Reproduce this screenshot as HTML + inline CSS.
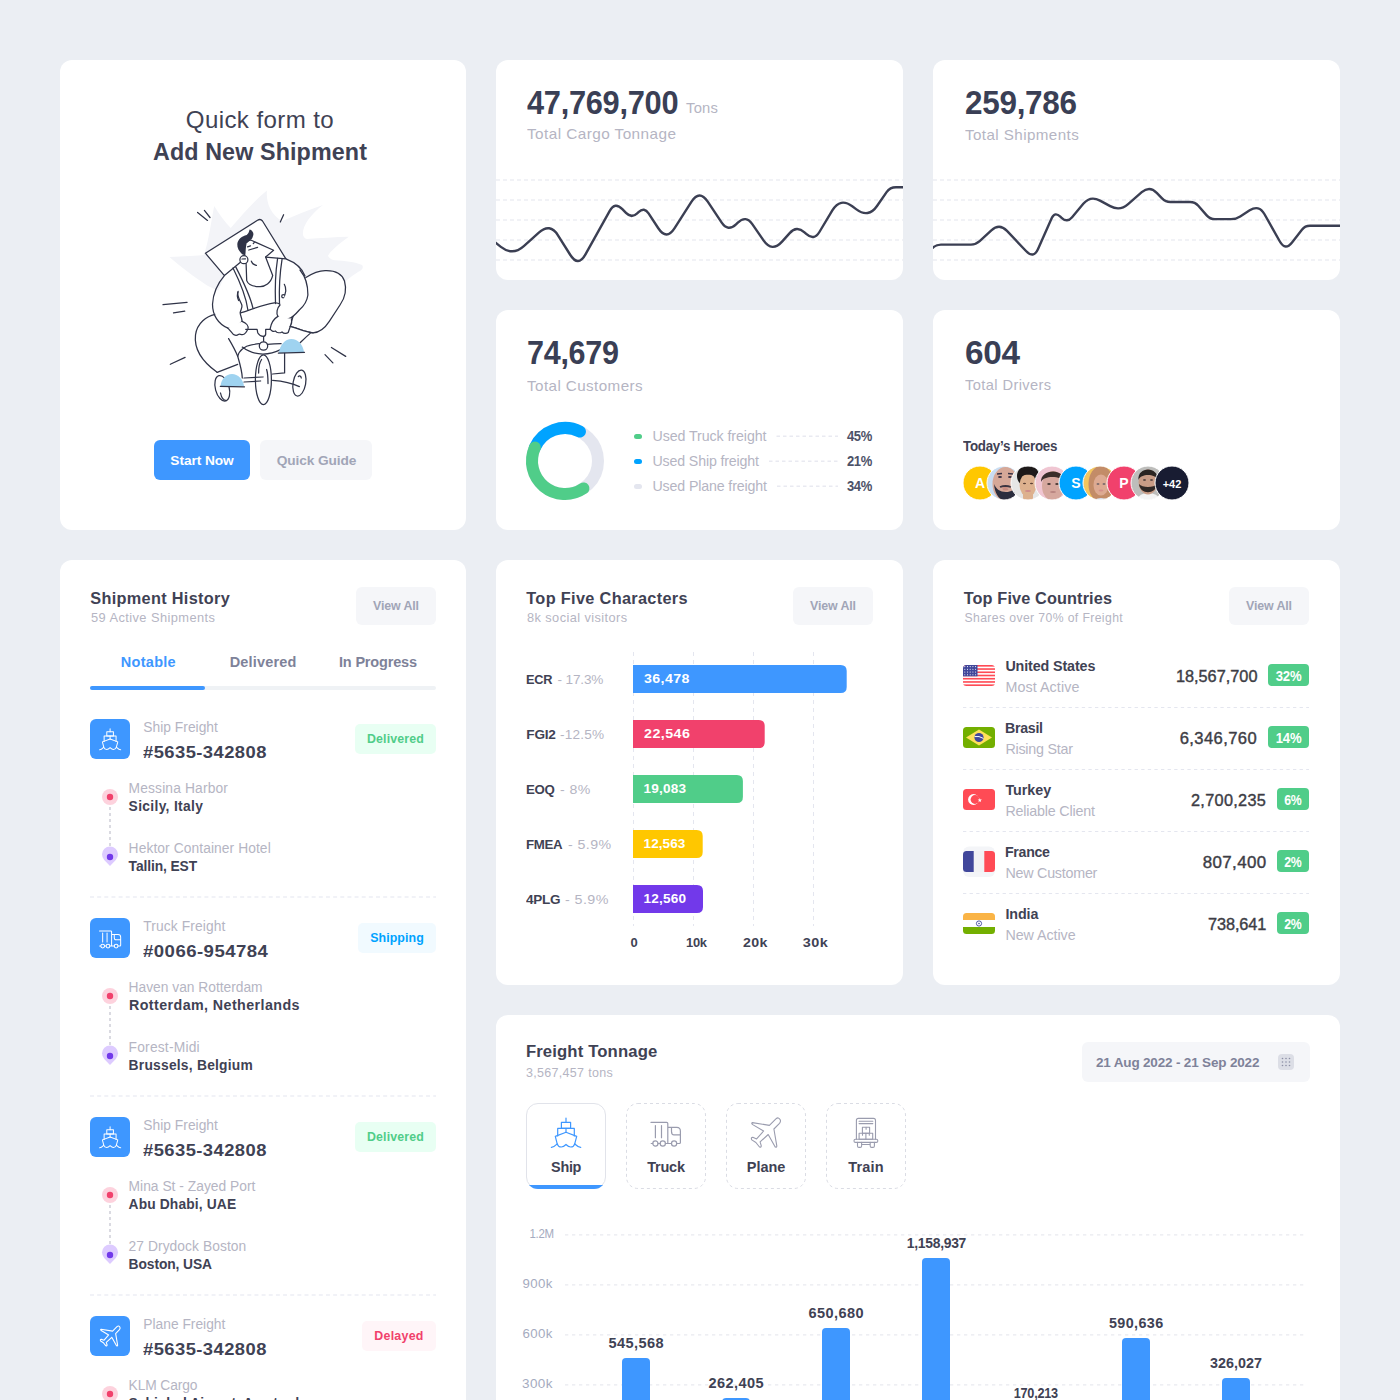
<!DOCTYPE html><html><head><meta charset="utf-8"><style>
html,body{margin:0;padding:0;}
body{width:1400px;height:1400px;overflow:hidden;background:#EBEEF3;position:relative;font-family:"Liberation Sans",sans-serif;}
.t{position:absolute;white-space:nowrap;z-index:2;}
.t span{display:inline-block;}
.r{position:absolute;}
.a{position:absolute;overflow:visible;}
</style></head><body>
<div class="r" style="left:60px;top:60px;width:406px;height:470px;background:#fff;border-radius:12px;"></div>
<div class="r" style="left:496px;top:60px;width:407px;height:220px;background:#fff;border-radius:12px;"></div>
<div class="r" style="left:933px;top:60px;width:407px;height:220px;background:#fff;border-radius:12px;"></div>
<div class="r" style="left:496px;top:310px;width:407px;height:220px;background:#fff;border-radius:12px;"></div>
<div class="r" style="left:933px;top:310px;width:407px;height:220px;background:#fff;border-radius:12px;"></div>
<div class="r" style="left:60px;top:560px;width:406px;height:900px;background:#fff;border-radius:12px;"></div>
<div class="r" style="left:496px;top:560px;width:407px;height:425px;background:#fff;border-radius:12px;"></div>
<div class="r" style="left:933px;top:560px;width:407px;height:425px;background:#fff;border-radius:12px;"></div>
<div class="r" style="left:496px;top:1015px;width:844px;height:500px;background:#fff;border-radius:12px;"></div>
<div class="t" style="top:107.68px;font-size:24px;line-height:24px;font-weight:400;color:#3F4254;letter-spacing:0.400px;left:-140.00px;width:800px;text-align:center;"><span id="t1" style="transform:scaleX(1.0034);transform-origin:50% 0">Quick form to</span></div>
<div class="t" style="top:141.27px;font-size:23.3px;line-height:23.3px;font-weight:700;color:#3F4254;letter-spacing:0.116px;left:-140.00px;width:800px;text-align:center;"><span id="t2">Add New Shipment</span></div>
<div class="r" style="left:154px;top:440px;width:96px;height:40px;background:#3E97FF;border-radius:6px;"></div>
<div class="t" style="top:453.50px;font-size:13.7px;line-height:13.7px;font-weight:700;color:#fff;letter-spacing:-0.061px;left:-198.00px;width:800px;text-align:center;"><span id="t3">Start Now</span></div>
<div class="r" style="left:260px;top:440px;width:112px;height:40px;background:#F5F6F9;border-radius:6px;"></div>
<div class="t" style="top:453.50px;font-size:13.7px;line-height:13.7px;font-weight:700;color:#A1A5B7;letter-spacing:-0.083px;left:-83.50px;width:800px;text-align:center;"><span id="t4">Quick Guide</span></div>
<div class="t" style="top:86.02px;font-size:33.4px;line-height:33.4px;font-weight:700;color:#3A3F55;letter-spacing:-0.300px;left:526.50px;"><span id="t5" style="transform:scaleX(0.9214);transform-origin:0 0">47,769,700</span></div>
<div class="t" style="top:100.97px;font-size:14.8px;line-height:14.8px;font-weight:400;color:#B5B5C3;letter-spacing:0.245px;left:686.00px;"><span id="t6">Tons</span></div>
<div class="t" style="top:127.22px;font-size:14.5px;line-height:14.5px;font-weight:400;color:#B5B5C3;letter-spacing:0.400px;left:527.00px;"><span id="t7" style="transform:scaleX(1.0585);transform-origin:0 0">Total Cargo Tonnage</span></div>
<div class="t" style="top:85.92px;font-size:33.4px;line-height:33.4px;font-weight:700;color:#3A3F55;letter-spacing:-0.300px;left:964.60px;"><span id="t8" style="transform:scaleX(0.9419);transform-origin:0 0">259,786</span></div>
<div class="t" style="top:127.62px;font-size:14.5px;line-height:14.5px;font-weight:400;color:#B5B5C3;letter-spacing:0.400px;left:964.60px;"><span id="t9" style="transform:scaleX(1.0462);transform-origin:0 0">Total Shipments</span></div>
<div class="t" style="top:336.22px;font-size:33.4px;line-height:33.4px;font-weight:700;color:#3A3F55;letter-spacing:-0.300px;left:527.00px;"><span id="t10" style="transform:scaleX(0.9141);transform-origin:0 0">74,679</span></div>
<div class="t" style="top:378.92px;font-size:14.5px;line-height:14.5px;font-weight:400;color:#B5B5C3;letter-spacing:0.400px;left:527.00px;"><span id="t11" style="transform:scaleX(1.0474);transform-origin:0 0">Total Customers</span></div>
<div class="r" style="left:634px;top:433.8px;width:8px;height:5px;background:#50CD89;border-radius:3px;"></div>
<div class="t" style="top:429.28px;font-size:14.2px;line-height:14.2px;font-weight:400;color:#B5B5C3;letter-spacing:-0.066px;left:652.50px;"><span id="t12">Used Truck freight</span></div>
<div class="t" style="top:429.02px;font-size:14.5px;line-height:14.5px;font-weight:700;color:#4D5268;letter-spacing:-0.300px;left:72.50px;width:800px;text-align:right;"><span id="t13" style="transform:scaleX(0.8969);transform-origin:100% 0">45%</span></div>
<svg class="a" style="left:0;top:0" width="1400" height="1400"><line x1="776.5" y1="436.3" x2="838" y2="436.3" stroke="#E9EAF1" stroke-width="1.5" stroke-dasharray="3.5 3"/></svg>
<div class="r" style="left:634px;top:458.8px;width:8px;height:5px;background:#00A3FF;border-radius:3px;"></div>
<div class="t" style="top:454.28px;font-size:14.2px;line-height:14.2px;font-weight:400;color:#B5B5C3;letter-spacing:-0.146px;left:652.50px;"><span id="t14">Used Ship freight</span></div>
<div class="t" style="top:454.02px;font-size:14.5px;line-height:14.5px;font-weight:700;color:#4D5268;letter-spacing:-0.300px;left:72.50px;width:800px;text-align:right;"><span id="t15" style="transform:scaleX(0.8969);transform-origin:100% 0">21%</span></div>
<svg class="a" style="left:0;top:0" width="1400" height="1400"><line x1="769.0" y1="461.3" x2="838" y2="461.3" stroke="#E9EAF1" stroke-width="1.5" stroke-dasharray="3.5 3"/></svg>
<div class="r" style="left:634px;top:483.8px;width:8px;height:5px;background:#E4E6EF;border-radius:3px;"></div>
<div class="t" style="top:479.28px;font-size:14.2px;line-height:14.2px;font-weight:400;color:#B5B5C3;letter-spacing:-0.131px;left:652.50px;"><span id="t16">Used Plane freight</span></div>
<div class="t" style="top:479.02px;font-size:14.5px;line-height:14.5px;font-weight:700;color:#4D5268;letter-spacing:-0.300px;left:72.50px;width:800px;text-align:right;"><span id="t17" style="transform:scaleX(0.8969);transform-origin:100% 0">34%</span></div>
<svg class="a" style="left:0;top:0" width="1400" height="1400"><line x1="777.0" y1="486.3" x2="838" y2="486.3" stroke="#E9EAF1" stroke-width="1.5" stroke-dasharray="3.5 3"/></svg>
<svg class="a" style="left:520px;top:416px" width="90" height="90" viewBox="520 416 90 90">
<circle cx="565" cy="461" r="33" fill="none" stroke="#E4E6EF" stroke-width="12"/>
<path d="M534.85 447.6 A33 33 0 0 1 580 431.6" fill="none" stroke="#00A3FF" stroke-width="12" stroke-linecap="round"/>
<path d="M534.85 447.6 A33 33 0 0 0 583.45 488.4" fill="none" stroke="#50CD89" stroke-width="12" stroke-linecap="round"/>
</svg>
<div class="t" style="top:336.02px;font-size:33.4px;line-height:33.4px;font-weight:700;color:#3A3F55;letter-spacing:-0.300px;left:965.00px;"><span id="t18" style="transform:scaleX(0.9978);transform-origin:0 0">604</span></div>
<div class="t" style="top:378.02px;font-size:14.5px;line-height:14.5px;font-weight:400;color:#B5B5C3;letter-spacing:0.400px;left:964.50px;"><span id="t19" style="transform:scaleX(1.0096);transform-origin:0 0">Total Drivers</span></div>
<div class="t" style="top:439.22px;font-size:14.5px;line-height:14.5px;font-weight:700;color:#3F4254;letter-spacing:-0.300px;left:963.00px;"><span id="t20" style="transform:scaleX(0.9212);transform-origin:0 0">Today’s Heroes</span></div>
<svg class="a" style="left:496px;top:160px;overflow:hidden" width="407" height="110" viewBox="496 160 407 110"><line x1="496" y1="180" x2="903" y2="180" stroke="#EDEEF3" stroke-width="1.6" stroke-dasharray="4 3"/><line x1="496" y1="200" x2="903" y2="200" stroke="#EDEEF3" stroke-width="1.6" stroke-dasharray="4 3"/><line x1="496" y1="220" x2="903" y2="220" stroke="#EDEEF3" stroke-width="1.6" stroke-dasharray="4 3"/><line x1="496" y1="240" x2="903" y2="240" stroke="#EDEEF3" stroke-width="1.6" stroke-dasharray="4 3"/><line x1="496" y1="260" x2="903" y2="260" stroke="#EDEEF3" stroke-width="1.6" stroke-dasharray="4 3"/><path d="M478.00 229.00 L500.85 246.87 Q512.66 256.11 523.83 246.10 L538.83 232.64 Q550.00 222.62 557.98 235.32 L570.19 254.75 Q578.17 267.45 585.47 254.35 L609.73 210.81 Q614.94 201.47 622.35 209.18 L625.97 212.95 Q631.41 218.62 637.20 213.32 L638.48 212.14 Q644.27 206.84 648.58 213.41 L658.31 228.25 Q666.54 240.80 674.61 228.15 L691.37 201.87 Q699.44 189.22 707.74 201.71 L721.71 222.71 Q727.91 232.03 736.03 224.31 L737.83 222.60 Q745.94 214.88 752.29 224.10 L763.51 240.41 Q772.01 252.77 782.04 241.62 L789.68 233.12 Q796.70 225.31 804.48 232.37 L806.21 233.94 Q813.99 241.00 819.40 232.00 L832.49 210.21 Q840.22 197.36 852.26 206.29 L856.43 209.38 Q868.48 218.32 877.01 205.98 L886.59 192.13 Q890.00 187.20 896.00 187.20 L915.00 187.20" fill="none" stroke="#3B3F53" stroke-width="2.4" stroke-linejoin="round"/></svg>
<svg class="a" style="left:933px;top:160px;overflow:hidden" width="407" height="110" viewBox="933 160 407 110"><line x1="933" y1="180" x2="1340" y2="180" stroke="#EDEEF3" stroke-width="1.6" stroke-dasharray="4 3"/><line x1="933" y1="200" x2="1340" y2="200" stroke="#EDEEF3" stroke-width="1.6" stroke-dasharray="4 3"/><line x1="933" y1="220" x2="1340" y2="220" stroke="#EDEEF3" stroke-width="1.6" stroke-dasharray="4 3"/><line x1="933" y1="240" x2="1340" y2="240" stroke="#EDEEF3" stroke-width="1.6" stroke-dasharray="4 3"/><line x1="933" y1="260" x2="1340" y2="260" stroke="#EDEEF3" stroke-width="1.6" stroke-dasharray="4 3"/><path d="M922.00 258.00 L932.39 248.06 Q936.00 244.60 941.00 244.60 L971.00 244.60 Q976.00 244.60 979.67 241.21 L991.35 230.40 Q999.43 222.94 1006.99 230.92 L1026.01 251.02 Q1033.57 259.01 1038.04 248.96 L1051.66 218.36 Q1054.78 211.35 1060.35 216.63 L1061.59 217.80 Q1067.16 223.08 1072.09 217.20 L1083.29 203.81 Q1090.35 195.38 1100.01 200.64 L1110.19 206.17 Q1119.85 211.43 1128.11 204.16 L1141.75 192.17 Q1149.56 185.31 1156.73 192.82 L1162.05 198.38 Q1165.50 202.00 1170.50 202.00 L1190.00 202.00 Q1195.00 202.00 1198.30 205.76 L1206.70 215.34 Q1210.00 219.10 1215.00 219.10 L1231.00 219.10 Q1236.00 219.10 1240.21 216.41 L1249.70 210.35 Q1258.97 204.42 1264.37 214.01 L1279.86 241.48 Q1285.26 251.06 1292.03 242.40 L1301.92 229.74 Q1305.00 225.80 1310.00 225.80 L1350.00 225.80" fill="none" stroke="#3B3F53" stroke-width="2.4" stroke-linejoin="round"/></svg>
<svg class="a" style="left:0;top:0" width="1400" height="1400"><circle cx="980" cy="483" r="17" fill="#FFC700" stroke="#fff" stroke-width="1"/><text x="980" y="488" text-anchor="middle" font-family="Liberation Sans" font-weight="700" font-size="14" fill="#fff">A</text><clipPath id="cp1"><circle cx="1004" cy="483" r="17"/></clipPath><g clip-path="url(#cp1)"><circle cx="1004" cy="483" r="17" fill="#C9DDF2"/><ellipse cx="1005.5" cy="484" rx="13" ry="17" fill="#D6A898"/><path d="M994 484 C995 496 1001 501 1007 501 C1013 501 1017 495 1017 484 C1015 490 1011 492 1006 492 C1000 492 996 489 994 484Z" fill="#2B2D3E"/><path d="M1000 487 Q1005.5 485 1011 487" stroke="#3B3440" stroke-width="1.8" fill="none"/><ellipse cx="1005.5" cy="489.5" rx="3" ry="1" fill="#C48A80"/><path d="M997 474 L1002 473.5 M1008 473.5 L1013 474" stroke="#3A3345" stroke-width="1.6"/><ellipse cx="1000" cy="477" rx="2" ry="0.9" fill="#3A3345"/><ellipse cx="1010" cy="477" rx="2" ry="0.9" fill="#3A3345"/><ellipse cx="1005" cy="488" rx="3" ry="1" fill="#C98C80"/></g><circle cx="1004" cy="483" r="17" fill="none" stroke="#fff" stroke-width="1"/><clipPath id="cp2"><circle cx="1028" cy="483" r="17"/></clipPath><g clip-path="url(#cp2)"><circle cx="1028" cy="483" r="17" fill="#E6E6E6"/><rect x="1023" y="491" width="10" height="10" fill="#DDB18E"/><ellipse cx="1028" cy="476" rx="11" ry="11" fill="#1E1A1A"/><ellipse cx="1028" cy="485" rx="8.5" ry="11.5" fill="#DDB18E"/><path d="M1019 480 C1020 473 1036 473 1037 480 C1037 474 1033 469 1028 469 C1023 469 1019 474 1019 480Z" fill="#1E1A1A"/><ellipse cx="1024.5" cy="483.5" rx="1.6" ry="0.8" fill="#5A4036"/><ellipse cx="1031.5" cy="483.5" rx="1.6" ry="0.8" fill="#5A4036"/><ellipse cx="1028" cy="491" rx="3" ry="1" fill="#D08A8A"/></g><circle cx="1028" cy="483" r="17" fill="none" stroke="#fff" stroke-width="1"/><clipPath id="cp3"><circle cx="1052" cy="483" r="17"/></clipPath><g clip-path="url(#cp3)"><circle cx="1052" cy="483" r="17" fill="#F0C6D2"/><ellipse cx="1053" cy="486" rx="11" ry="15" fill="#D6A89E"/><path d="M1041 482 C1040 469 1065 467 1064 482 C1062 476 1044 475 1041 482Z" fill="#3A2E2A"/><ellipse cx="1049" cy="484" rx="1.8" ry="0.9" fill="#4A3A36"/><ellipse cx="1057" cy="484" rx="1.8" ry="0.9" fill="#4A3A36"/><ellipse cx="1053" cy="492" rx="3" ry="0.9" fill="#B98580"/></g><circle cx="1052" cy="483" r="17" fill="none" stroke="#fff" stroke-width="1"/><circle cx="1076" cy="483" r="17" fill="#00A3FF" stroke="#fff" stroke-width="1"/><text x="1076" y="488" text-anchor="middle" font-family="Liberation Sans" font-weight="700" font-size="14" fill="#fff">S</text><clipPath id="cp5"><circle cx="1100" cy="483" r="17"/></clipPath><g clip-path="url(#cp5)"><circle cx="1100" cy="483" r="17" fill="#F2C55E"/><ellipse cx="1101" cy="484" rx="12.5" ry="18" fill="#C38C68"/><ellipse cx="1101" cy="485" rx="7.5" ry="10.5" fill="#DDAA92"/><path d="M1093 478 C1094 472 1108 472 1109 478 C1108 471 1095 470 1093 478Z" fill="#C38C68"/><ellipse cx="1098" cy="484" rx="1.5" ry="0.8" fill="#5A5560"/><ellipse cx="1104" cy="484" rx="1.5" ry="0.8" fill="#5A5560"/><ellipse cx="1101" cy="490.5" rx="2.4" ry="0.9" fill="#D4908A"/><path d="M1094 500 Q1101 496 1108 500Z" fill="#D8E2F0"/></g><circle cx="1100" cy="483" r="17" fill="none" stroke="#fff" stroke-width="1"/><circle cx="1124" cy="483" r="17" fill="#F1416C" stroke="#fff" stroke-width="1"/><text x="1124" y="488" text-anchor="middle" font-family="Liberation Sans" font-weight="700" font-size="14" fill="#fff">P</text><clipPath id="cp7"><circle cx="1148" cy="483" r="17"/></clipPath><g clip-path="url(#cp7)"><circle cx="1148" cy="483" r="17" fill="#BDBDBB"/><path d="M1136 501 Q1139 493 1148 493 Q1158 493 1161 501Z" fill="#F4F4F4"/><ellipse cx="1148" cy="482" rx="9.5" ry="12.5" fill="#C99C86"/><path d="M1138.5 480 C1137 466 1159 466 1157.5 480 C1156 474 1141 473 1138.5 480Z" fill="#2A2422"/><path d="M1139 484 C1140 495 1156 495 1157 484 C1154 488 1142 488 1139 484Z" fill="#302826"/><ellipse cx="1144.5" cy="480" rx="1.6" ry="0.8" fill="#3A3030"/><ellipse cx="1151.5" cy="480" rx="1.6" ry="0.8" fill="#3A3030"/></g><circle cx="1148" cy="483" r="17" fill="none" stroke="#fff" stroke-width="1"/><circle cx="1172" cy="483" r="17" fill="#181C32" stroke="#fff" stroke-width="1"/><text x="1172" y="488" text-anchor="middle" font-family="Liberation Sans" font-weight="700" font-size="11" fill="#fff">+42</text></svg>
<div class="t" style="top:589.60px;font-size:16.3px;line-height:16.3px;font-weight:700;color:#3F4254;letter-spacing:0.307px;left:90.30px;"><span id="t21">Shipment History</span></div>
<div class="t" style="top:612.17px;font-size:12.2px;line-height:12.2px;font-weight:400;color:#B5B5C3;letter-spacing:0.400px;left:91.40px;"><span id="t22" style="transform:scaleX(1.0541);transform-origin:0 0">59 Active Shipments</span></div>
<div class="r" style="left:356px;top:587px;width:80px;height:38px;background:#F5F6F9;border-radius:6px;"></div>
<div class="t" style="top:599.80px;font-size:12.4px;line-height:12.4px;font-weight:700;color:#A1A5B7;letter-spacing:-0.118px;left:-4.00px;width:800px;text-align:center;"><span id="t23">View All</span></div>
<div class="t" style="top:655.22px;font-size:14.5px;line-height:14.5px;font-weight:700;color:#3E97FF;letter-spacing:0.305px;left:120.70px;"><span id="t24">Notable</span></div>
<div class="t" style="top:655.22px;font-size:14.5px;line-height:14.5px;font-weight:700;color:#7E8299;letter-spacing:0.163px;left:229.70px;"><span id="t25">Delivered</span></div>
<div class="t" style="top:655.22px;font-size:14.5px;line-height:14.5px;font-weight:700;color:#7E8299;letter-spacing:-0.178px;left:339.00px;"><span id="t26">In Progress</span></div>
<div class="r" style="left:90px;top:686px;width:346px;height:4px;background:#EFF2F5;border-radius:2px;"></div>
<div class="r" style="left:90px;top:686px;width:115px;height:4px;background:#3E97FF;border-radius:2px;"></div>
<div class="r" style="left:90px;top:719px;width:40px;height:40px;background:#3E97FF;border-radius:6px;"></div>
<div class="t" style="top:720.82px;font-size:13.8px;line-height:13.8px;font-weight:400;color:#B5B5C3;letter-spacing:0.019px;left:143.30px;"><span id="t27">Ship Freight</span></div>
<div class="t" style="top:743.60px;font-size:16.3px;line-height:16.3px;font-weight:700;color:#3F4254;letter-spacing:0.400px;left:143.00px;"><span id="t28" style="transform:scaleX(1.1276);transform-origin:0 0">#5635-342808</span></div>
<div class="r" style="left:355px;top:724px;width:81px;height:30px;background:#E8FFF3;border-radius:5px;"></div>
<div class="t" style="top:732.90px;font-size:12.4px;line-height:12.4px;font-weight:700;color:#50CD89;letter-spacing:0.150px;left:-4.50px;width:800px;text-align:center;"><span id="t29">Delivered</span></div>
<div class="t" style="top:781.72px;font-size:13.8px;line-height:13.8px;font-weight:400;color:#B5B5C3;letter-spacing:0.147px;left:128.60px;"><span id="t30">Messina Harbor</span></div>
<div class="t" style="top:799.52px;font-size:13.8px;line-height:13.8px;font-weight:700;color:#3F4254;letter-spacing:0.332px;left:128.60px;"><span id="t31">Sicily, Italy</span></div>
<div class="t" style="top:841.72px;font-size:13.8px;line-height:13.8px;font-weight:400;color:#B5B5C3;letter-spacing:0.084px;left:128.60px;"><span id="t32">Hektor Container Hotel</span></div>
<div class="t" style="top:859.52px;font-size:13.8px;line-height:13.8px;font-weight:700;color:#3F4254;letter-spacing:-0.102px;left:128.60px;"><span id="t33">Tallin, EST</span></div>
<div class="r" style="left:90px;top:918px;width:40px;height:40px;background:#3E97FF;border-radius:6px;"></div>
<div class="t" style="top:919.82px;font-size:13.8px;line-height:13.8px;font-weight:400;color:#B5B5C3;letter-spacing:0.103px;left:143.30px;"><span id="t34">Truck Freight</span></div>
<div class="t" style="top:942.60px;font-size:16.3px;line-height:16.3px;font-weight:700;color:#3F4254;letter-spacing:0.400px;left:143.00px;"><span id="t35" style="transform:scaleX(1.1414);transform-origin:0 0">#0066-954784</span></div>
<div class="r" style="left:358px;top:923px;width:78px;height:30px;background:#F1FAFF;border-radius:5px;"></div>
<div class="t" style="top:931.90px;font-size:12.4px;line-height:12.4px;font-weight:700;color:#00A3FF;letter-spacing:0.071px;left:-3.00px;width:800px;text-align:center;"><span id="t36">Shipping</span></div>
<div class="t" style="top:980.72px;font-size:13.8px;line-height:13.8px;font-weight:400;color:#B5B5C3;letter-spacing:-0.011px;left:128.60px;"><span id="t37">Haven van Rotterdam</span></div>
<div class="t" style="top:998.52px;font-size:13.8px;line-height:13.8px;font-weight:700;color:#3F4254;letter-spacing:0.400px;left:128.60px;"><span id="t38" style="transform:scaleX(1.0345);transform-origin:0 0">Rotterdam, Netherlands</span></div>
<div class="t" style="top:1040.72px;font-size:13.8px;line-height:13.8px;font-weight:400;color:#B5B5C3;letter-spacing:0.200px;left:128.60px;"><span id="t39">Forest-Midi</span></div>
<div class="t" style="top:1058.52px;font-size:13.8px;line-height:13.8px;font-weight:700;color:#3F4254;letter-spacing:0.238px;left:128.60px;"><span id="t40">Brussels, Belgium</span></div>
<div class="r" style="left:90px;top:1117px;width:40px;height:40px;background:#3E97FF;border-radius:6px;"></div>
<div class="t" style="top:1118.82px;font-size:13.8px;line-height:13.8px;font-weight:400;color:#B5B5C3;letter-spacing:0.019px;left:143.30px;"><span id="t41">Ship Freight</span></div>
<div class="t" style="top:1141.60px;font-size:16.3px;line-height:16.3px;font-weight:700;color:#3F4254;letter-spacing:0.400px;left:143.00px;"><span id="t42" style="transform:scaleX(1.1276);transform-origin:0 0">#5635-342808</span></div>
<div class="r" style="left:355px;top:1122px;width:81px;height:30px;background:#E8FFF3;border-radius:5px;"></div>
<div class="t" style="top:1130.90px;font-size:12.4px;line-height:12.4px;font-weight:700;color:#50CD89;letter-spacing:0.150px;left:-4.50px;width:800px;text-align:center;"><span id="t43">Delivered</span></div>
<div class="t" style="top:1179.72px;font-size:13.8px;line-height:13.8px;font-weight:400;color:#B5B5C3;letter-spacing:0.014px;left:128.60px;"><span id="t44">Mina St - Zayed Port</span></div>
<div class="t" style="top:1197.52px;font-size:13.8px;line-height:13.8px;font-weight:700;color:#3F4254;letter-spacing:0.132px;left:128.60px;"><span id="t45">Abu Dhabi, UAE</span></div>
<div class="t" style="top:1239.72px;font-size:13.8px;line-height:13.8px;font-weight:400;color:#B5B5C3;letter-spacing:0.064px;left:128.60px;"><span id="t46">27 Drydock Boston</span></div>
<div class="t" style="top:1257.52px;font-size:13.8px;line-height:13.8px;font-weight:700;color:#3F4254;letter-spacing:-0.091px;left:128.60px;"><span id="t47">Boston, USA</span></div>
<div class="r" style="left:90px;top:1316px;width:40px;height:40px;background:#3E97FF;border-radius:6px;"></div>
<div class="t" style="top:1317.82px;font-size:13.8px;line-height:13.8px;font-weight:400;color:#B5B5C3;letter-spacing:-0.005px;left:143.30px;"><span id="t48">Plane Freight</span></div>
<div class="t" style="top:1340.60px;font-size:16.3px;line-height:16.3px;font-weight:700;color:#3F4254;letter-spacing:0.400px;left:143.00px;"><span id="t49" style="transform:scaleX(1.1276);transform-origin:0 0">#5635-342808</span></div>
<div class="r" style="left:362px;top:1321px;width:74px;height:30px;background:#FFF5F8;border-radius:5px;"></div>
<div class="t" style="top:1329.90px;font-size:12.4px;line-height:12.4px;font-weight:700;color:#F1416C;letter-spacing:0.278px;left:-1.00px;width:800px;text-align:center;"><span id="t50">Delayed</span></div>
<div class="t" style="top:1378.72px;font-size:13.8px;line-height:13.8px;font-weight:400;color:#B5B5C3;letter-spacing:-0.123px;left:128.60px;"><span id="t51">KLM Cargo</span></div>
<div class="t" style="top:1396.52px;font-size:13.8px;line-height:13.8px;font-weight:700;color:#3F4254;letter-spacing:0.000px;left:128.60px;"><span id="t52">Schiphol Airport, Amsterdam</span></div>
<svg class="a" style="left:0;top:0" width="1400" height="1400"><g transform="translate(99.3 727.9) scale(0.72)" fill="none" stroke="#fff" stroke-width="1.389" stroke-linejoin="round" stroke-linecap="round"><path d="M15 1.1V5.3M15 11.4V15.3"/><rect x="10.4" y="5.3" width="9.2" height="6.1"/><path d="M6.7 19V11.4H23.3V19"/><path d="M4.3 19.4L15 15.3L25.7 19.4L23.7 26.8C23 29.5 21 30 19.7 30C18 30 16.5 29 15 27.5C13.5 29 12 30 10.3 30C9 30 7 29.5 6.2 26.8Z"/><path d="M0.4 30.4C3 30.4 4.5 28.5 6.2 26.8M23.7 26.8C25.5 28.5 27 30.4 29.7 30.4"/></g><circle cx="110" cy="797" r="8" fill="#FDD2DD"/><circle cx="110" cy="797" r="3.2" fill="#F1416C"/><line x1="110" y1="807" x2="110" y2="847" stroke="#B5B5C3" stroke-width="1" stroke-dasharray="3 3"/><path d="M110 866 L104.2 860 A8 8 0 1 1 115.8 860 Z" fill="#DDCBFF"/><circle cx="110" cy="857" r="3.2" fill="#7239EA"/><line x1="90" y1="897" x2="436" y2="897" stroke="#E4E6EF" stroke-width="1.2" stroke-dasharray="4 3.15"/><g transform="translate(99.5 927) scale(0.72)" fill="none" stroke="#fff" stroke-width="1.389" stroke-linejoin="round" stroke-linecap="round"><path d="M0 5.4H15.6Q16.8 5.4 16.8 6.6V26.5M4.4 8.5V20.7M10.5 8.5V20.7M16.8 10.4H25.8Q29.4 10.4 29.4 14.3V25.5Q29.4 26.5 28.4 26.5H25.7M20.5 10.4V14.5Q20.5 17.8 23 17.8H29.4M0.2 26.5H1.8M7 26.5H9.2M14.4 26.5H20.5"/><circle cx="4.4" cy="26.5" r="2.6"/><circle cx="11.8" cy="26.5" r="2.6"/><circle cx="23.1" cy="26.5" r="2.6"/></g><circle cx="110" cy="996" r="8" fill="#FDD2DD"/><circle cx="110" cy="996" r="3.2" fill="#F1416C"/><line x1="110" y1="1006" x2="110" y2="1046" stroke="#B5B5C3" stroke-width="1" stroke-dasharray="3 3"/><path d="M110 1065 L104.2 1059 A8 8 0 1 1 115.8 1059 Z" fill="#DDCBFF"/><circle cx="110" cy="1056" r="3.2" fill="#7239EA"/><line x1="90" y1="1096" x2="436" y2="1096" stroke="#E4E6EF" stroke-width="1.2" stroke-dasharray="4 3.15"/><g transform="translate(99.3 1125.9) scale(0.72)" fill="none" stroke="#fff" stroke-width="1.389" stroke-linejoin="round" stroke-linecap="round"><path d="M15 1.1V5.3M15 11.4V15.3"/><rect x="10.4" y="5.3" width="9.2" height="6.1"/><path d="M6.7 19V11.4H23.3V19"/><path d="M4.3 19.4L15 15.3L25.7 19.4L23.7 26.8C23 29.5 21 30 19.7 30C18 30 16.5 29 15 27.5C13.5 29 12 30 10.3 30C9 30 7 29.5 6.2 26.8Z"/><path d="M0.4 30.4C3 30.4 4.5 28.5 6.2 26.8M23.7 26.8C25.5 28.5 27 30.4 29.7 30.4"/></g><circle cx="110" cy="1195" r="8" fill="#FDD2DD"/><circle cx="110" cy="1195" r="3.2" fill="#F1416C"/><line x1="110" y1="1205" x2="110" y2="1245" stroke="#B5B5C3" stroke-width="1" stroke-dasharray="3 3"/><path d="M110 1264 L104.2 1258 A8 8 0 1 1 115.8 1258 Z" fill="#DDCBFF"/><circle cx="110" cy="1255" r="3.2" fill="#7239EA"/><line x1="90" y1="1295" x2="436" y2="1295" stroke="#E4E6EF" stroke-width="1.2" stroke-dasharray="4 3.15"/><g transform="translate(96 1322) scale(0.68)" fill="none" stroke="#fff" stroke-width="1.618" stroke-linejoin="round" stroke-linecap="round"><path d="M7.4 10.6L24.4 13.4L30.9 6.9Q33.5 4.5 35.2 7.8Q36 9.5 34.5 11.3L28.9 17L31.8 33.8Q32 35.5 30.2 35L23.2 22.5L15.1 29.9L16.3 33.8Q16.3 35.5 14.5 35L10.9 30.5L6.8 27.9Q5.6 25.5 7.8 25.3L11.6 26.9L18.6 19L7.7 12.6Q6 11 7.4 10.6Z"/></g><circle cx="110" cy="1394" r="8" fill="#FDD2DD"/><circle cx="110" cy="1394" r="3.2" fill="#F1416C"/></svg>
<div class="t" style="top:589.70px;font-size:16.3px;line-height:16.3px;font-weight:700;color:#3F4254;letter-spacing:0.332px;left:526.30px;"><span id="t53">Top Five Characters</span></div>
<div class="t" style="top:612.47px;font-size:12.2px;line-height:12.2px;font-weight:400;color:#B5B5C3;letter-spacing:0.400px;left:527.00px;"><span id="t54" style="transform:scaleX(1.0488);transform-origin:0 0">8k social visitors</span></div>
<div class="r" style="left:793px;top:587px;width:80px;height:38px;background:#F5F6F9;border-radius:6px;"></div>
<div class="t" style="top:599.80px;font-size:12.4px;line-height:12.4px;font-weight:700;color:#A1A5B7;letter-spacing:-0.118px;left:433.00px;width:800px;text-align:center;"><span id="t55">View All</span></div>
<div class="t" style="top:672.58px;font-size:13.6px;line-height:13.6px;font-weight:700;color:#3F4254;letter-spacing:-0.300px;left:526.30px;"><span id="t56" style="transform:scaleX(0.9394);transform-origin:0 0">ECR</span></div>
<div class="t" style="top:672.58px;font-size:13.6px;line-height:13.6px;font-weight:400;color:#B5B5C3;letter-spacing:-0.160px;left:557.50px;"><span id="t57">- 17.3%</span></div>
<div class="t" style="top:671.98px;font-size:13.6px;line-height:13.6px;font-weight:700;color:#fff;letter-spacing:0.400px;left:643.60px;"><span id="t58" style="transform:scaleX(1.0418);transform-origin:0 0">36,478</span></div>
<div class="t" style="top:727.58px;font-size:13.6px;line-height:13.6px;font-weight:700;color:#3F4254;letter-spacing:-0.206px;left:526.30px;"><span id="t59">FGI2</span></div>
<div class="t" style="top:727.58px;font-size:13.6px;line-height:13.6px;font-weight:400;color:#B5B5C3;letter-spacing:0.184px;left:560.00px;"><span id="t60">-12.5%</span></div>
<div class="t" style="top:726.98px;font-size:13.6px;line-height:13.6px;font-weight:700;color:#fff;letter-spacing:0.400px;left:643.60px;"><span id="t61" style="transform:scaleX(1.0533);transform-origin:0 0">22,546</span></div>
<div class="t" style="top:782.58px;font-size:13.6px;line-height:13.6px;font-weight:700;color:#3F4254;letter-spacing:-0.300px;left:526.30px;"><span id="t62" style="transform:scaleX(0.9757);transform-origin:0 0">EOQ</span></div>
<div class="t" style="top:782.58px;font-size:13.6px;line-height:13.6px;font-weight:400;color:#B5B5C3;letter-spacing:0.400px;left:560.00px;"><span id="t63" style="transform:scaleX(1.0393);transform-origin:0 0">- 8%</span></div>
<div class="t" style="top:781.98px;font-size:13.6px;line-height:13.6px;font-weight:700;color:#fff;letter-spacing:0.164px;left:643.60px;"><span id="t64">19,083</span></div>
<div class="t" style="top:837.58px;font-size:13.6px;line-height:13.6px;font-weight:700;color:#3F4254;letter-spacing:-0.300px;left:526.30px;"><span id="t65" style="transform:scaleX(0.9757);transform-origin:0 0">FMEA</span></div>
<div class="t" style="top:837.58px;font-size:13.6px;line-height:13.6px;font-weight:400;color:#B5B5C3;letter-spacing:0.400px;left:568.00px;"><span id="t66" style="transform:scaleX(1.0437);transform-origin:0 0">- 5.9%</span></div>
<div class="t" style="top:836.98px;font-size:13.6px;line-height:13.6px;font-weight:700;color:#fff;letter-spacing:0.044px;left:643.60px;"><span id="t67">12,563</span></div>
<div class="t" style="top:892.58px;font-size:13.6px;line-height:13.6px;font-weight:700;color:#3F4254;letter-spacing:-0.300px;left:526.30px;"><span id="t68" style="transform:scaleX(0.9938);transform-origin:0 0">4PLG</span></div>
<div class="t" style="top:892.58px;font-size:13.6px;line-height:13.6px;font-weight:400;color:#B5B5C3;letter-spacing:0.400px;left:564.90px;"><span id="t69" style="transform:scaleX(1.0509);transform-origin:0 0">- 5.9%</span></div>
<div class="t" style="top:891.98px;font-size:13.6px;line-height:13.6px;font-weight:700;color:#fff;letter-spacing:0.164px;left:643.60px;"><span id="t70">12,560</span></div>
<svg class="a" style="left:0;top:0" width="1400" height="1400"><line x1="633.5" y1="652" x2="633.5" y2="926" stroke="#E4E6EF" stroke-width="1" stroke-dasharray="4 4"/><line x1="693.5" y1="652" x2="693.5" y2="926" stroke="#E4E6EF" stroke-width="1" stroke-dasharray="4 4"/><line x1="753.5" y1="652" x2="753.5" y2="926" stroke="#E4E6EF" stroke-width="1" stroke-dasharray="4 4"/><line x1="813.5" y1="652" x2="813.5" y2="926" stroke="#E4E6EF" stroke-width="1" stroke-dasharray="4 4"/><path d="M633 665H840.7Q846.7 665 846.7 671V687Q846.7 693 840.7 693H633Z" fill="#3E97FF"/><path d="M633 720H758.7Q764.7 720 764.7 726V742Q764.7 748 758.7 748H633Z" fill="#F1416C"/><path d="M633 775H736.9Q742.9 775 742.9 781V797Q742.9 803 736.9 803H633Z" fill="#50CD89"/><path d="M633 830H696.7Q702.7 830 702.7 836V852Q702.7 858 696.7 858H633Z" fill="#FFC700"/><path d="M633 885H697Q703 885 703 891V907Q703 913 697 913H633Z" fill="#7239EA"/></svg>
<div class="t" style="top:936.49px;font-size:13px;line-height:13px;font-weight:700;color:#3F4254;letter-spacing:0.000px;left:234.00px;width:800px;text-align:center;"><span id="t71">0</span></div>
<div class="t" style="top:936.49px;font-size:13px;line-height:13px;font-weight:700;color:#3F4254;letter-spacing:-0.300px;left:296.50px;width:800px;text-align:center;"><span id="t72" style="transform:scaleX(0.9951);transform-origin:50% 0">10k</span></div>
<div class="t" style="top:936.49px;font-size:13px;line-height:13px;font-weight:700;color:#3F4254;letter-spacing:0.400px;left:355.30px;width:800px;text-align:center;"><span id="t73" style="transform:scaleX(1.0932);transform-origin:50% 0">20k</span></div>
<div class="t" style="top:936.49px;font-size:13px;line-height:13px;font-weight:700;color:#3F4254;letter-spacing:0.400px;left:415.50px;width:800px;text-align:center;"><span id="t74" style="transform:scaleX(1.1110);transform-origin:50% 0">30k</span></div>
<div class="t" style="top:589.80px;font-size:16.3px;line-height:16.3px;font-weight:700;color:#3F4254;letter-spacing:0.121px;left:963.70px;"><span id="t75">Top Five Countries</span></div>
<div class="t" style="top:611.97px;font-size:12.2px;line-height:12.2px;font-weight:400;color:#B5B5C3;letter-spacing:0.394px;left:964.50px;"><span id="t76">Shares over 70% of Freight</span></div>
<div class="r" style="left:1229px;top:587px;width:80px;height:38px;background:#F5F6F9;border-radius:6px;"></div>
<div class="t" style="top:599.80px;font-size:12.4px;line-height:12.4px;font-weight:700;color:#A1A5B7;letter-spacing:-0.118px;left:869.00px;width:800px;text-align:center;"><span id="t77">View All</span></div>
<div class="t" style="top:658.99px;font-size:14.3px;line-height:14.3px;font-weight:700;color:#3F4254;letter-spacing:-0.113px;left:1005.40px;"><span id="t78">United States</span></div>
<div class="t" style="top:680.19px;font-size:14.3px;line-height:14.3px;font-weight:400;color:#B5B5C3;letter-spacing:0.089px;left:1005.40px;"><span id="t79">Most Active</span></div>
<div class="t" style="top:667.60px;font-size:16.3px;line-height:16.3px;font-weight:400;color:#3D3D45;letter-spacing:0.011px;-webkit-text-stroke:0.4px #3D3D45;left:457.50px;width:800px;text-align:right;"><span id="t80">18,567,700</span></div>
<div class="r" style="left:1268px;top:664px;width:41px;height:22px;background:#50CD89;border-radius:4px;"></div>
<div class="t" style="top:668.65px;font-size:14px;line-height:14px;font-weight:700;color:#fff;letter-spacing:-0.300px;left:888.50px;width:800px;text-align:center;"><span id="t81" style="transform:scaleX(0.9369);transform-origin:50% 0">32%</span></div>
<div class="t" style="top:720.99px;font-size:14.3px;line-height:14.3px;font-weight:700;color:#3F4254;letter-spacing:-0.300px;left:1005.40px;"><span id="t82" style="transform:scaleX(0.9935);transform-origin:0 0">Brasil</span></div>
<div class="t" style="top:742.19px;font-size:14.3px;line-height:14.3px;font-weight:400;color:#B5B5C3;letter-spacing:-0.232px;left:1005.40px;"><span id="t83">Rising Star</span></div>
<div class="t" style="top:729.60px;font-size:16.3px;line-height:16.3px;font-weight:400;color:#3D3D45;letter-spacing:0.400px;-webkit-text-stroke:0.4px #3D3D45;left:457.50px;width:800px;text-align:right;"><span id="t84" style="transform:scaleX(1.0180);transform-origin:100% 0">6,346,760</span></div>
<div class="r" style="left:1268px;top:726px;width:41px;height:22px;background:#50CD89;border-radius:4px;"></div>
<div class="t" style="top:730.65px;font-size:14px;line-height:14px;font-weight:700;color:#fff;letter-spacing:-0.300px;left:888.50px;width:800px;text-align:center;"><span id="t85" style="transform:scaleX(0.9369);transform-origin:50% 0">14%</span></div>
<div class="t" style="top:782.99px;font-size:14.3px;line-height:14.3px;font-weight:700;color:#3F4254;letter-spacing:-0.006px;left:1005.40px;"><span id="t86">Turkey</span></div>
<div class="t" style="top:804.19px;font-size:14.3px;line-height:14.3px;font-weight:400;color:#B5B5C3;letter-spacing:-0.192px;left:1005.40px;"><span id="t87">Reliable Client</span></div>
<div class="t" style="top:791.60px;font-size:16.3px;line-height:16.3px;font-weight:400;color:#3D3D45;letter-spacing:0.308px;-webkit-text-stroke:0.4px #3D3D45;left:466.20px;width:800px;text-align:right;"><span id="t88">2,700,235</span></div>
<div class="r" style="left:1276.7px;top:788px;width:32.299999999999955px;height:22px;background:#50CD89;border-radius:4px;"></div>
<div class="t" style="top:792.65px;font-size:14px;line-height:14px;font-weight:700;color:#fff;letter-spacing:-0.300px;left:892.85px;width:800px;text-align:center;"><span id="t89" style="transform:scaleX(0.8779);transform-origin:50% 0">6%</span></div>
<div class="t" style="top:844.99px;font-size:14.3px;line-height:14.3px;font-weight:700;color:#3F4254;letter-spacing:-0.300px;left:1005.40px;"><span id="t90" style="transform:scaleX(0.9914);transform-origin:0 0">France</span></div>
<div class="t" style="top:866.19px;font-size:14.3px;line-height:14.3px;font-weight:400;color:#B5B5C3;letter-spacing:-0.232px;left:1005.40px;"><span id="t91">New Customer</span></div>
<div class="t" style="top:853.60px;font-size:16.3px;line-height:16.3px;font-weight:400;color:#3D3D45;letter-spacing:0.400px;-webkit-text-stroke:0.4px #3D3D45;left:466.20px;width:800px;text-align:right;"><span id="t92" style="transform:scaleX(1.0382);transform-origin:100% 0">807,400</span></div>
<div class="r" style="left:1276.7px;top:850px;width:32.299999999999955px;height:22px;background:#50CD89;border-radius:4px;"></div>
<div class="t" style="top:854.65px;font-size:14px;line-height:14px;font-weight:700;color:#fff;letter-spacing:-0.300px;left:892.85px;width:800px;text-align:center;"><span id="t93" style="transform:scaleX(0.8779);transform-origin:50% 0">2%</span></div>
<div class="t" style="top:906.99px;font-size:14.3px;line-height:14.3px;font-weight:700;color:#3F4254;letter-spacing:-0.094px;left:1005.40px;"><span id="t94">India</span></div>
<div class="t" style="top:928.19px;font-size:14.3px;line-height:14.3px;font-weight:400;color:#B5B5C3;letter-spacing:-0.058px;left:1005.40px;"><span id="t95">New Active</span></div>
<div class="t" style="top:915.60px;font-size:16.3px;line-height:16.3px;font-weight:400;color:#3D3D45;letter-spacing:-0.110px;-webkit-text-stroke:0.4px #3D3D45;left:466.20px;width:800px;text-align:right;"><span id="t96">738,641</span></div>
<div class="r" style="left:1276.7px;top:912px;width:32.299999999999955px;height:22px;background:#50CD89;border-radius:4px;"></div>
<div class="t" style="top:916.65px;font-size:14px;line-height:14px;font-weight:700;color:#fff;letter-spacing:-0.300px;left:892.85px;width:800px;text-align:center;"><span id="t97" style="transform:scaleX(0.8779);transform-origin:50% 0">2%</span></div>
<svg class="a" style="left:0;top:0" width="1400" height="1400"><clipPath id="flus"><rect x="963" y="665" width="32" height="21" rx="3.5"/></clipPath><g clip-path="url(#flus)"><rect x="963" y="665" width="32" height="21" fill="#fff"/><rect x="963" y="665.00" width="32" height="1.62" fill="#FF4B55"/><rect x="963" y="668.23" width="32" height="1.62" fill="#FF4B55"/><rect x="963" y="671.46" width="32" height="1.62" fill="#FF4B55"/><rect x="963" y="674.69" width="32" height="1.62" fill="#FF4B55"/><rect x="963" y="677.92" width="32" height="1.62" fill="#FF4B55"/><rect x="963" y="681.15" width="32" height="1.62" fill="#FF4B55"/><rect x="963" y="684.38" width="32" height="1.62" fill="#FF4B55"/><rect x="963" y="665" width="14.5" height="11.3" fill="#41479B"/><circle cx="964.8" cy="666.6" r="0.55" fill="#fff"/><circle cx="967.5" cy="666.6" r="0.55" fill="#fff"/><circle cx="970.2" cy="666.6" r="0.55" fill="#fff"/><circle cx="972.9" cy="666.6" r="0.55" fill="#fff"/><circle cx="975.6" cy="666.6" r="0.55" fill="#fff"/><circle cx="964.8" cy="669.3" r="0.55" fill="#fff"/><circle cx="967.5" cy="669.3" r="0.55" fill="#fff"/><circle cx="970.2" cy="669.3" r="0.55" fill="#fff"/><circle cx="972.9" cy="669.3" r="0.55" fill="#fff"/><circle cx="975.6" cy="669.3" r="0.55" fill="#fff"/><circle cx="964.8" cy="672.0" r="0.55" fill="#fff"/><circle cx="967.5" cy="672.0" r="0.55" fill="#fff"/><circle cx="970.2" cy="672.0" r="0.55" fill="#fff"/><circle cx="972.9" cy="672.0" r="0.55" fill="#fff"/><circle cx="975.6" cy="672.0" r="0.55" fill="#fff"/><circle cx="964.8" cy="674.7" r="0.55" fill="#fff"/><circle cx="967.5" cy="674.7" r="0.55" fill="#fff"/><circle cx="970.2" cy="674.7" r="0.55" fill="#fff"/><circle cx="972.9" cy="674.7" r="0.55" fill="#fff"/><circle cx="975.6" cy="674.7" r="0.55" fill="#fff"/></g><line x1="963" y1="707.5" x2="1309" y2="707.5" stroke="#E4E6EF" stroke-width="1.2" stroke-dasharray="3.3 3.3"/><clipPath id="flbr"><rect x="963" y="727" width="32" height="21" rx="3.5"/></clipPath><g clip-path="url(#flbr)"><rect x="963" y="727" width="32" height="21" fill="#73AF00"/><path d="M979 729.5L992 737.5L979 745.5L966 737.5Z" fill="#FFE15A"/><circle cx="979" cy="737.5" r="4.6" fill="#41479B"/><path d="M974.6 736.6Q979 735.6 983.4 738.4" stroke="#fff" stroke-width="1" fill="none"/></g><line x1="963" y1="769.5" x2="1309" y2="769.5" stroke="#E4E6EF" stroke-width="1.2" stroke-dasharray="3.3 3.3"/><clipPath id="fltr"><rect x="963" y="789" width="32" height="21" rx="3.5"/></clipPath><g clip-path="url(#fltr)"><rect x="963" y="789" width="32" height="21" fill="#FF4B55"/><circle cx="973.5" cy="799.5" r="5.4" fill="#fff"/><circle cx="975" cy="799.5" r="4.4" fill="#FF4B55"/><path d="M979.8 798l0.55 1.5 1.6 0.05-1.25 1 0.45 1.5-1.35-0.9-1.35 0.9 0.45-1.5-1.25-1 1.6-0.05z" fill="#fff"/></g><line x1="963" y1="831.5" x2="1309" y2="831.5" stroke="#E4E6EF" stroke-width="1.2" stroke-dasharray="3.3 3.3"/><rect x="963" y="846.5" width="32" height="30.5" rx="6" fill="#F4F5F8"/><clipPath id="flfr"><rect x="963" y="851" width="32" height="21" rx="3.5"/></clipPath><g clip-path="url(#flfr)"><rect x="963" y="851" width="32" height="21" fill="#F2F2F4"/><rect x="963" y="851" width="10.7" height="21" fill="#41479B"/><rect x="984.3" y="851" width="10.7" height="21" fill="#FF4B55"/></g><line x1="963" y1="893.5" x2="1309" y2="893.5" stroke="#E4E6EF" stroke-width="1.2" stroke-dasharray="3.3 3.3"/><clipPath id="flin"><rect x="963" y="913" width="32" height="21" rx="3.5"/></clipPath><g clip-path="url(#flin)"><rect x="963" y="913" width="32" height="21" fill="#fff"/><rect x="963" y="913" width="32" height="7" fill="#FAB446"/><rect x="963" y="927" width="32" height="7" fill="#73AF00"/><circle cx="979" cy="923.5" r="2.6" fill="none" stroke="#41479B" stroke-width="0.9"/><circle cx="979" cy="923.5" r="0.8" fill="#41479B"/></g></svg>
<div class="t" style="top:1044.26px;font-size:16.7px;line-height:16.7px;font-weight:700;color:#3F4254;letter-spacing:0.137px;left:525.90px;"><span id="t98">Freight Tonnage</span></div>
<div class="t" style="top:1066.62px;font-size:12.5px;line-height:12.5px;font-weight:400;color:#B5B5C3;letter-spacing:0.306px;left:526.00px;"><span id="t99">3,567,457 tons</span></div>
<div class="r" style="left:1082px;top:1042px;width:228px;height:40px;background:#F5F6F9;border-radius:6px;"></div>
<div class="t" style="top:1056.07px;font-size:13.5px;line-height:13.5px;font-weight:700;color:#7E8299;letter-spacing:-0.175px;left:1096.00px;"><span id="t100">21 Aug 2022 - 21 Sep 2022</span></div>
<div class="t" style="top:1160.22px;font-size:14.5px;line-height:14.5px;font-weight:700;color:#3F4254;letter-spacing:-0.300px;left:166.00px;width:800px;text-align:center;"><span id="t101" style="transform:scaleX(0.9927);transform-origin:50% 0">Ship</span></div>
<div class="t" style="top:1160.22px;font-size:14.5px;line-height:14.5px;font-weight:700;color:#3F4254;letter-spacing:-0.197px;left:266.00px;width:800px;text-align:center;"><span id="t102">Truck</span></div>
<div class="t" style="top:1160.22px;font-size:14.5px;line-height:14.5px;font-weight:700;color:#3F4254;letter-spacing:-0.072px;left:366.00px;width:800px;text-align:center;"><span id="t103">Plane</span></div>
<div class="t" style="top:1160.22px;font-size:14.5px;line-height:14.5px;font-weight:700;color:#3F4254;letter-spacing:0.186px;left:466.00px;width:800px;text-align:center;"><span id="t104">Train</span></div>
<div class="t" style="top:1227.83px;font-size:12.6px;line-height:12.6px;font-weight:400;color:#A5ABC0;letter-spacing:-0.300px;left:-246.60px;width:800px;text-align:right;"><span id="t105" style="transform:scaleX(0.9114);transform-origin:100% 0">1.2M</span></div>
<div class="t" style="top:1277.83px;font-size:12.6px;line-height:12.6px;font-weight:400;color:#A5ABC0;letter-spacing:0.400px;left:-246.60px;width:800px;text-align:right;"><span id="t106" style="transform:scaleX(1.0522);transform-origin:100% 0">900k</span></div>
<div class="t" style="top:1327.83px;font-size:12.6px;line-height:12.6px;font-weight:400;color:#A5ABC0;letter-spacing:0.400px;left:-246.60px;width:800px;text-align:right;"><span id="t107" style="transform:scaleX(1.0522);transform-origin:100% 0">600k</span></div>
<div class="t" style="top:1377.83px;font-size:12.6px;line-height:12.6px;font-weight:400;color:#A5ABC0;letter-spacing:0.400px;left:-246.60px;width:800px;text-align:right;"><span id="t108" style="transform:scaleX(1.0697);transform-origin:100% 0">300k</span></div>
<div class="t" style="top:1336.39px;font-size:14.3px;line-height:14.3px;font-weight:700;color:#3F4254;letter-spacing:0.400px;left:236.00px;width:800px;text-align:center;"><span id="t109" style="transform:scaleX(1.0187);transform-origin:50% 0">545,568</span></div>
<div class="t" style="top:1376.39px;font-size:14.3px;line-height:14.3px;font-weight:700;color:#3F4254;letter-spacing:0.400px;left:336.00px;width:800px;text-align:center;"><span id="t110" style="transform:scaleX(1.0169);transform-origin:50% 0">262,405</span></div>
<div class="t" style="top:1306.39px;font-size:14.3px;line-height:14.3px;font-weight:700;color:#3F4254;letter-spacing:0.400px;left:436.00px;width:800px;text-align:center;"><span id="t111" style="transform:scaleX(1.0169);transform-origin:50% 0">650,680</span></div>
<div class="t" style="top:1236.39px;font-size:14.3px;line-height:14.3px;font-weight:700;color:#3F4254;letter-spacing:-0.300px;left:536.00px;width:800px;text-align:center;"><span id="t112" style="transform:scaleX(0.9721);transform-origin:50% 0">1,158,937</span></div>
<div class="t" style="top:1386.39px;font-size:14.3px;line-height:14.3px;font-weight:700;color:#3F4254;letter-spacing:-0.300px;left:636.00px;width:800px;text-align:center;"><span id="t113" style="transform:scaleX(0.8880);transform-origin:50% 0">170,213</span></div>
<div class="t" style="top:1316.39px;font-size:14.3px;line-height:14.3px;font-weight:700;color:#3F4254;letter-spacing:0.400px;left:736.00px;width:800px;text-align:center;"><span id="t114" style="transform:scaleX(1.0039);transform-origin:50% 0">590,636</span></div>
<div class="t" style="top:1356.39px;font-size:14.3px;line-height:14.3px;font-weight:700;color:#3F4254;letter-spacing:0.052px;left:836.00px;width:800px;text-align:center;"><span id="t115">326,027</span></div>
<svg class="a" style="left:0;top:0" width="1400" height="1400"><rect x="1278" y="1054" width="16" height="16" rx="4" fill="#DCDEE6"/><circle cx="1282.5" cy="1058.5" r="0.8" fill="#8C8FA6"/><circle cx="1286.0" cy="1058.5" r="0.8" fill="#8C8FA6"/><circle cx="1289.5" cy="1058.5" r="0.8" fill="#8C8FA6"/><circle cx="1282.5" cy="1062.0" r="0.8" fill="#8C8FA6"/><circle cx="1286.0" cy="1062.0" r="0.8" fill="#8C8FA6"/><circle cx="1289.5" cy="1062.0" r="0.8" fill="#8C8FA6"/><circle cx="1282.5" cy="1065.5" r="0.8" fill="#8C8FA6"/><circle cx="1286.0" cy="1065.5" r="0.8" fill="#8C8FA6"/><circle cx="1289.5" cy="1065.5" r="0.8" fill="#8C8FA6"/><clipPath id="tabc"><rect x="526" y="1103" width="80" height="86" rx="12"/></clipPath><rect x="526.5" y="1103.5" width="79" height="85" rx="11.5" fill="#fff" stroke="#E1E3EA" stroke-width="1"/><rect x="526" y="1185" width="80" height="5" fill="#3E97FF" clip-path="url(#tabc)"/><g transform="translate(551 1117) scale(1)" fill="none" stroke="#3E97FF" stroke-width="1.200" stroke-linejoin="round" stroke-linecap="round"><path d="M15 1.1V5.3M15 11.4V15.3"/><rect x="10.4" y="5.3" width="9.2" height="6.1"/><path d="M6.7 19V11.4H23.3V19"/><path d="M4.3 19.4L15 15.3L25.7 19.4L23.7 26.8C23 29.5 21 30 19.7 30C18 30 16.5 29 15 27.5C13.5 29 12 30 10.3 30C9 30 7 29.5 6.2 26.8Z"/><path d="M0.4 30.4C3 30.4 4.5 28.5 6.2 26.8M23.7 26.8C25.5 28.5 27 30.4 29.7 30.4"/></g><rect x="626.5" y="1103.5" width="79" height="85" rx="11.5" fill="#fff" stroke="#DADCE4" stroke-width="1" stroke-dasharray="3 3"/><g transform="translate(651 1117) scale(1)" fill="none" stroke="#9A9CAE" stroke-width="1.200" stroke-linejoin="round" stroke-linecap="round"><path d="M0 5.4H15.6Q16.8 5.4 16.8 6.6V26.5M4.4 8.5V20.7M10.5 8.5V20.7M16.8 10.4H25.8Q29.4 10.4 29.4 14.3V25.5Q29.4 26.5 28.4 26.5H25.7M20.5 10.4V14.5Q20.5 17.8 23 17.8H29.4M0.2 26.5H1.8M7 26.5H9.2M14.4 26.5H20.5"/><circle cx="4.4" cy="26.5" r="2.6"/><circle cx="11.8" cy="26.5" r="2.6"/><circle cx="23.1" cy="26.5" r="2.6"/></g><rect x="726.5" y="1103.5" width="79" height="85" rx="11.5" fill="#fff" stroke="#DADCE4" stroke-width="1" stroke-dasharray="3 3"/><g transform="translate(745 1112) scale(1)" fill="none" stroke="#9A9CAE" stroke-width="1.100" stroke-linejoin="round" stroke-linecap="round"><path d="M7.4 10.6L24.4 13.4L30.9 6.9Q33.5 4.5 35.2 7.8Q36 9.5 34.5 11.3L28.9 17L31.8 33.8Q32 35.5 30.2 35L23.2 22.5L15.1 29.9L16.3 33.8Q16.3 35.5 14.5 35L10.9 30.5L6.8 27.9Q5.6 25.5 7.8 25.3L11.6 26.9L18.6 19L7.7 12.6Q6 11 7.4 10.6Z"/></g><rect x="826.5" y="1103.5" width="79" height="85" rx="11.5" fill="#fff" stroke="#DADCE4" stroke-width="1" stroke-dasharray="3 3"/><g transform="translate(845 1112) scale(1)" fill="none" stroke="#9A9CAE" stroke-width="1.100" stroke-linejoin="round" stroke-linecap="round"><path d="M11.4 27.3V8.4Q11.4 6.4 13.4 6.4H28.5Q30.5 6.4 30.5 8.4V27.3"/><path d="M14.1 9.3H27.8M14.1 11.6H27.8"/><rect x="17.4" y="15.3" width="7.2" height="5.9"/><path d="M21.1 15.3V17.3M17.5 21.2V23.2M24.3 21.2V23.2"/><rect x="14.1" y="21.2" width="13.6" height="6.1"/><path d="M20.9 21.2V27.3"/><rect x="9" y="27.3" width="23.8" height="3.1" rx="1.5"/><path d="M12.5 30.4V34Q12.5 35.4 13.9 35.4H15.2Q16.6 35.4 16.6 34V30.4M25.2 30.4V34Q25.2 35.4 26.6 35.4H28Q29.4 35.4 29.4 34V30.4M16.6 32.5H25.2"/></g><line x1="565" y1="1234.9" x2="1306" y2="1234.9" stroke="#E9EAF0" stroke-width="1.3" stroke-dasharray="3.3 3.7"/><line x1="565" y1="1284.9" x2="1306" y2="1284.9" stroke="#E9EAF0" stroke-width="1.3" stroke-dasharray="3.3 3.7"/><line x1="565" y1="1334.9" x2="1306" y2="1334.9" stroke="#E9EAF0" stroke-width="1.3" stroke-dasharray="3.3 3.7"/><line x1="565" y1="1384.9" x2="1306" y2="1384.9" stroke="#E9EAF0" stroke-width="1.3" stroke-dasharray="3.3 3.7"/><rect x="622" y="1358" width="28" height="82" rx="4" fill="#3E97FF"/><rect x="722" y="1398" width="28" height="42" rx="4" fill="#3E97FF"/><rect x="822" y="1328" width="28" height="112" rx="4" fill="#3E97FF"/><rect x="922" y="1258" width="28" height="182" rx="4" fill="#3E97FF"/><rect x="1022" y="1408" width="28" height="32" rx="4" fill="#3E97FF"/><rect x="1122" y="1338" width="28" height="102" rx="4" fill="#3E97FF"/><rect x="1222" y="1378" width="28" height="62" rx="4" fill="#3E97FF"/></svg>
<svg class="a" style="left:0;top:0" width="1400" height="1400"><g fill="none" stroke="#2F3347" stroke-width="1.25" stroke-linecap="round" stroke-linejoin="round">
<path stroke="none" fill="#F3F4F8" d="M169.4 257.1 C185 256 198 256 204 254.8 C209 240 211 222 214.2 206 C219 214 225 222 230.7 228 C243 214 255 200 266.9 190.4 C266 202 270 214 282 221 C294 216 308 210 322.9 204.9 C310 215 302 226 303 235 C304 238 306 239 307.1 239 C320 238 335 237 348.8 236.7 C340 243 330 251 328 256 C330 259 333 260 334.6 260.3 C345 261 355 262 362.1 265 C364 268 362 270 358 272 C352 276 348 279 346.4 280.7 L300 300 L240 300 C225 292 215 290 207.1 285.4 C195 278 180 266 169.4 257.1 Z"/>
<path fill="#fff" d="M224 275.2 L205.4 253.2 L257.5 220.2 Q260.5 218.5 262.5 221 L285.9 258.9 L246 282 Z"/>
<path fill="#fff" d="M305 278 C313 273 319 270.5 325.7 270.7 C335 270.5 342 274 344.5 281 C347 290 345 298 340 305 L329.3 321.4 C325 328 320 332.5 313 332.9 C305 332 297 328 290 326.4 Z"/>
<path fill="#fff" d="M215 314.3 C207 316 197 323 195.5 335 C194 348 200 360 217.1 372.3 C224 369 231 366 237.7 364.3"/>
<path fill="#fff" stroke="none" d="M225 274.9 L240.4 262.3 L265 256.6 L285.9 258.9 C294 262 302 268 305 276 L307.9 295 L299.3 310 L280 305 L240.7 312.9 L242.1 321.4 L212.5 304.3 Z"/>
<path fill="#fff" stroke="none" d="M217.1 372.3 L215 314.3 L245 329 L290 326.4 L313 332.9 L300 342.9 L284 353 L280 372 L244 382 Z"/>
<path fill="#fff" d="M246.7 242.3 C248 240.5 249.5 240 250.7 240 L273.6 250.3 L265.6 257.1 L272.7 275.4 C271 283 265 287 259.3 286.6 C253 286.5 248 284 246.7 280.6 L246.1 263.4"/>
<path fill="#2F3347" stroke="none" d="M237.3 244 C238 239 242 236 246.7 234.9 C249 233 249 231 249.6 229.4 C252 230 254.5 233 253 236 C252.5 238 252 239 251 239.4 L246.7 242.9 C245.5 247 245.8 252 245.3 255.4 L242.1 254.3 C239 251 237 248 237.3 244 Z"/>
<circle cx="243.9" cy="259.7" r="4" fill="#fff"/>
<path d="M242 259 L245.5 258.8"/>
<path d="M251.3 261.1 Q252.5 264.8 256.4 265.4"/>
<path d="M247.5 246.8 L250.5 245.8 M248.8 250 L257.6 247.3 M253.3 243.6 L254.3 242.3"/>
<path d="M265.6 257.1 L285.9 258.9 C294 262 302 268 305 276"/>
<path d="M240.4 262.3 L225 274.9 C218 283 213 293 212.5 304.3 C212.5 315 218 324 227.9 328.2 C233 330 238 326 242.1 321.4"/>
<path d="M237.9 292.1 C237 297 240.5 301 241.9 305.2 C242.6 308 240.2 310.5 240.2 313 C240.4 316 242 318 242.1 321.4"/>
<path d="M233 268 C240 282 246 296 247.9 310 M235.6 266.6 C243 281 250 295 252.9 308"/>
<path d="M277.6 258.3 C275.5 272 275 290 275.5 303.6 M282.1 258.9 C280 272 279 290 279.5 303.6"/>
<path d="M284.3 284.3 C286.5 288 286.5 294 282.9 297.4"/><circle cx="283.4" cy="296.3" r="1.7" fill="#fff"/>
<path d="M238.1 291.4 C237 294 237.5 298 238.6 300.5"/>
<path d="M240.7 312.9 C250 310 262 305 274.3 302.9 C277 302.5 279 303.5 280 304.3"/>
<path fill="#fff" d="M300 270 C305 276 308 285 307.9 295 C307 302 304 306 299.3 310 C295 315 292 318 288.6 318.6 C283 319.5 279 318 277.9 316.4 C276 313 277 308 280 305"/>
<path fill="#fff" d="M242.1 321.4 C246 323 249 326 247.9 329 C246.5 332 245.5 334 243.2 334.5 C241 335 239.5 333.5 238.3 334.5 C236.5 336 233.5 335.3 232.3 333.2 L227.9 328.2"/>
<path fill="#fff" d="M277.9 316.4 C273.5 319 271 324 270.2 328.6 C271 331 273.5 332 275.5 331 C277 333 280 333.2 282 332 C284 334 287 333.5 288.2 332.5 L290.3 326.4 C291.5 324 292 321 291.5 318.8"/>
<path d="M245.7 329.3 L257.1 329.3 L257.8 333 Q260 336.6 263.6 336.4 Q266 336 265.7 333 L265.7 329.3 L270.2 329.3"/>
<path d="M290 326.4 C297 328 305 332 313 332.9 M310.7 332.9 C306 337 303 340 300 342.9"/>
<path d="M263.6 336.4 V341.8"/><circle cx="263.5" cy="346" r="4.2" fill="#fff"/>
<path d="M242.3 347.1 C248 351.5 256 354 262.9 354 C270 354 276 352 281.1 349.4 M237.7 356.3 C239 350 245 346 251.4 344.9 C254 344.3 257 343.8 259.4 343.7 M267.4 344.3 C272 344 277 343.8 281.1 343.7"/>
<path d="M228.6 338.6 C233 346 236 352 237.7 356.3 C240 364 242 372 242.3 378"/>
<path d="M237.7 364.3 L217.1 372.3"/>
<path d="M284.6 352.9 V372.9 L272.6 374"/>
<ellipse cx="263.4" cy="379.7" rx="8" ry="24.9" fill="#fff"/>
<path d="M258.6 373 C258.6 367 259.8 362 261.6 359.5 M268 383.5 C268 377 267.6 372.5 266.6 369.5"/>
<ellipse cx="222.3" cy="388.3" rx="6.9" ry="13.1" transform="rotate(-15 222.3 388.3)" fill="#fff"/>
<path d="M220.5 393 C221.5 398 224 400.5 226.5 400.5"/>
<ellipse cx="299.4" cy="383.1" rx="6.3" ry="13.1" transform="rotate(10 299.4 383.1)" fill="#fff"/>
<path d="M298.3 376.5 C299.5 375.5 301 376 301.3 378"/>
<path d="M244 378 L263 377 M244 382 L260.6 381 M272.6 380.3 C282 381 292 383 299.4 386.6"/>
<path fill="#9FD3F0" stroke="none" d="M220.6 386 C221 379 226 374 232 374 C238 374 243 379 244 386 Z"/>
<path d="M220.3 386.3 L244.5 386.8"/>
<path fill="#9FD3F0" stroke="none" d="M278.9 352.9 C280 345 285 339.1 291.4 339.1 C298 339.1 303 345 304 352.3 Z"/>
<path d="M278.3 353.1 L304.5 352.3"/>
<path d="M170.3 364.3 L185.1 357.4 M163 304.7 L187.1 302.3 M173.5 312.8 L184.7 311.2 M331.4 347.5 L345.7 356.4 M325 354.6 L332.9 362.9 M280.3 222 L283.6 214.7 M197.6 212.5 L207.5 220.4 M204.4 210.4 L210 217.5"/>
</g></svg>
</body></html>
